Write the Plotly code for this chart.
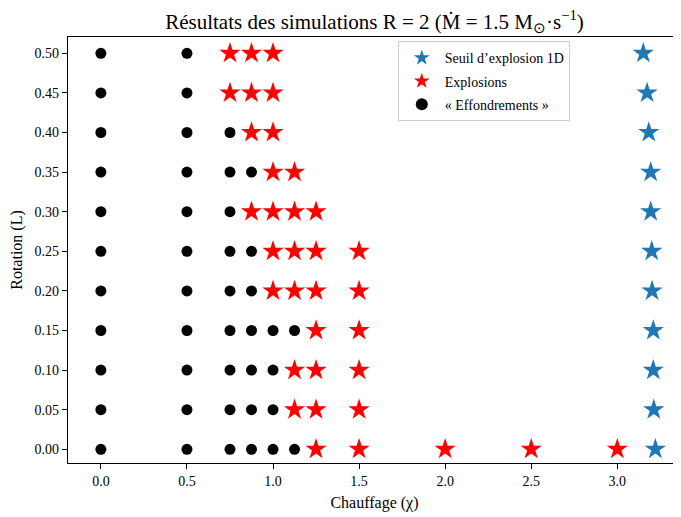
import plotly.graph_objects as go

# Collapses (« Effondrements »)
collapse_x = [0, 0.5,
              0, 0.5,
              0, 0.5, 0.75,
              0, 0.5, 0.75, 0.875,
              0, 0.5, 0.75,
              0, 0.5, 0.75, 0.875,
              0, 0.5, 0.75, 0.875,
              0, 0.5, 0.75, 0.875, 1.0, 1.125,
              0, 0.5, 0.75, 0.875, 1.0,
              0, 0.5, 0.75, 0.875, 1.0,
              0, 0.5, 0.75, 0.875, 1.0, 1.125]
collapse_y = [0.50]*2 + [0.45]*2 + [0.40]*3 + [0.35]*4 + [0.30]*3 + [0.25]*4 + \
             [0.20]*4 + [0.15]*6 + [0.10]*5 + [0.05]*5 + [0.00]*6

# Explosions
expl_x = [0.75, 0.875, 1.0,
          0.75, 0.875, 1.0,
          0.875, 1.0,
          1.0, 1.125,
          0.875, 1.0, 1.125, 1.25,
          1.0, 1.125, 1.25, 1.5,
          1.0, 1.125, 1.25, 1.5,
          1.25, 1.5,
          1.125, 1.25, 1.5,
          1.125, 1.25, 1.5,
          1.25, 1.5, 2.0, 2.5, 3.0]
expl_y = [0.50]*3 + [0.45]*3 + [0.40]*2 + [0.35]*2 + [0.30]*4 + [0.25]*4 + \
         [0.20]*4 + [0.15]*2 + [0.10]*3 + [0.05]*3 + [0.00]*5

# 1D explosion threshold
seuil_y = [0.50, 0.45, 0.40, 0.35, 0.30, 0.25, 0.20, 0.15, 0.10, 0.05, 0.00]
seuil_x = [3.151, 3.173, 3.183, 3.194, 3.194, 3.200, 3.202, 3.209, 3.209, 3.212, 3.221]

x_ticks = [0.0, 0.5, 1.0, 1.5, 2.0, 2.5, 3.0]
y_ticks = [0.00, 0.05, 0.10, 0.15, 0.20, 0.25, 0.30, 0.35, 0.40, 0.45, 0.50]

FONT = "Liberation Serif"

fig = go.Figure()
fig.add_trace(go.Scatter(x=seuil_x, y=seuil_y, mode="markers", name="Seuil d’explosion 1D",
                         legendgroup="a",
                         marker=dict(symbol="star", size=16, color="#1f77b4", line=dict(width=0))))
fig.add_trace(go.Scatter(x=expl_x, y=expl_y, mode="markers", name="Explosions",
                         legendgroup="b",
                         marker=dict(symbol="star", size=16, color="#ff0000", line=dict(width=0))))
fig.add_trace(go.Scatter(x=collapse_x, y=collapse_y, mode="markers", name="« Effondrements »",
                         legendgroup="c",
                         marker=dict(symbol="circle", size=11, color="black", line=dict(width=0))))

fig.update_layout(
    width=673, height=509,
    margin=dict(l=60, r=0, t=29, b=54),
    paper_bgcolor="white", plot_bgcolor="white",
    font=dict(family=FONT, size=14, color="black"),
    title=dict(text="Résultats des simulations R = 2 (Ṁ = 1.5 M<sub>⊙</sub>·s<sup>−1</sup>)",
               x=0.5, xref="paper", xanchor="center", y=0.974, yanchor="middle",
               font=dict(size=21, family=FONT)),
    legend=dict(x=0.538, y=0.99, xanchor="left", yanchor="top",
                bgcolor="rgba(255,255,255,0.8)", bordercolor="#cccccc", borderwidth=1,
                font=dict(size=14, family=FONT), itemsizing="constant", itemwidth=36,
                traceorder="grouped", tracegroupgap=2),
    showlegend=True,
)
fig.update_xaxes(range=[-0.191, 3.37], tickvals=x_ticks, tickformat=".1f", automargin=False,
                 showgrid=False, zeroline=False, showline=True, linecolor="black", linewidth=1.2,
                 mirror=True, ticks="outside", ticklen=5, tickcolor="black",
                 tickfont=dict(size=14, family=FONT),
                 title=dict(text="Chauffage (χ)", font=dict(size=16, family=FONT), standoff=8))
fig.update_yaxes(range=[-0.0173, 0.5206], tickvals=y_ticks, tickformat=".2f", automargin=False,
                 showgrid=False, zeroline=False, showline=True, linecolor="black", linewidth=1.2,
                 mirror=False, ticks="outside", ticklen=5, tickcolor="black",
                 tickfont=dict(size=14, family=FONT),
                 title=dict(text="Rotation (L)", font=dict(size=16, family=FONT), standoff=8))

fig.write_html("out.html")
